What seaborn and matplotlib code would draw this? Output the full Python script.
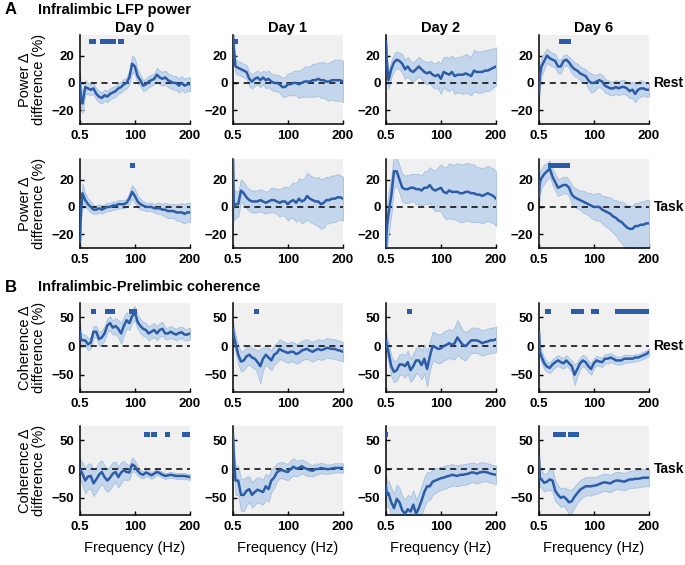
import numpy as np
import matplotlib.pyplot as plt
import matplotlib.transforms as mtransforms
import seaborn as sns

sns.set_style("ticks")
plt.rcParams['font.family'] = ['Liberation Sans', 'DejaVu Sans']
plt.rcParams['font.size'] = 10
plt.rcParams['axes.linewidth'] = 1.1
for key in ['text.color', 'axes.labelcolor', 'xtick.color', 'ytick.color', 'axes.edgecolor']:
    plt.rcParams[key] = 'black'

# frequency grid (Hz)
freq = [0.5, 2, 5, 10, 15, 20, 25, 30, 35, 40, 45, 50, 55, 60, 65, 70, 75, 80, 85, 90, 95,
        100, 105, 110, 115, 120, 125, 130, 135, 140, 145, 150, 155, 160, 165, 170, 175, 180,
        185, 190, 195, 200]

days = ['Day 0', 'Day 1', 'Day 2', 'Day 6']
conditions = ['Rest', 'Task']

# --- A: infralimbic LFP power difference (%) : mean and CI half width ---
pow_rest_d0 = [0, -10, -15, -3, -4, -5, -4, -8, -10, -11, -9, -10, -8, -7, -6, -4, -3, -1, 0, 4, 14,
               12, 5, 2, -2, -1, 1, 2, 3, 6, 4, 3, 4, 2, 1, 0, 0, -2, 0, -2, -1, -1]
pow_rest_d0_ci = [8, 8, 7, 5, 4, 4, 4, 4, 4, 4, 4, 4, 4, 4, 4, 4, 4, 4, 4, 5, 6,
                  6, 5, 4, 4, 4, 4, 4, 4, 5, 5, 5, 5, 5, 5, 5, 5, 5, 5, 5, 5, 5]
pow_rest_d1 = [35, 25, 12, 11, 10, 9, 8, 3, 1, 3, 4, 2, 4, 2, 3, 1, 0, 0, -1, -3, -3,
               -1, -1, 0, 0, -1, 0, 1, 1, 1, 2, 2, 3, 2, 2, 1, 1, 2, 2, 2, 2, 1]
pow_rest_d1_ci = [5, 5, 5, 5, 5, 5, 5, 5, 5, 5, 5, 5, 5, 6, 6, 6, 6, 6, 6, 7, 7,
                  8, 8, 9, 9, 10, 10, 11, 11, 11, 12, 12, 12, 13, 13, 13, 14, 14, 15, 15, 15, 15]
pow_rest_d2 = [30, 15, 2, 10, 15, 17, 16, 14, 10, 12, 9, 8, 10, 12, 10, 8, 7, 8, 6, 5, 6,
               3, 8, 7, 6, 8, 5, 6, 6, 6, 7, 6, 5, 9, 8, 8, 8, 9, 9, 10, 11, 12]
pow_rest_d2_ci = [6, 6, 6, 6, 6, 6, 6, 7, 7, 7, 7, 7, 7, 7, 7, 8, 8, 8, 9, 9, 10,
                  11, 11, 12, 12, 12, 13, 13, 13, 14, 14, 14, 14, 15, 15, 15, 15, 15, 15, 15, 14, 14]
pow_rest_d6 = [-8, 5, 12, 16, 20, 18, 17, 16, 12, 12, 16, 17, 15, 12, 10, 9, 7, 6, 5, 2, 0,
               0, 1, 2, 1, -2, -3, -4, -4, -3, -4, -3, -3, -4, -6, -5, -8, -5, -4, -4, -5, -5]
pow_rest_d6_ci = [8, 8, 7, 6, 5, 5, 5, 5, 5, 5, 4, 4, 4, 5, 5, 5, 5, 5, 5, 6, 7,
                  6, 5, 5, 5, 5, 5, 5, 5, 5, 5, 5, 5, 5, 5, 6, 6, 6, 6, 5, 5, 5]

pow_task_d0 = [-25, -5, 10, 5, 2, 0, -2, -2, -1, -2, -1, 0, 0, 1, 1, 2, 2, 2, 3, 6, 11,
               8, 4, 2, 1, 0, 0, 0, -1, -1, -1, -2, -2, -3, -3, -3, -4, -4, -4, -5, -4, -4]
pow_task_d0_ci = [8, 8, 7, 5, 4, 4, 3, 3, 3, 3, 3, 3, 3, 3, 3, 3, 3, 3, 3, 4, 5,
                  5, 4, 4, 3, 3, 3, 3, 3, 4, 4, 4, 5, 5, 5, 5, 6, 6, 7, 7, 7, 7]
pow_task_d1 = [35, 0, 2, 2, 12, 10, 7, 5, 4, 4, 4, 5, 4, 3, 4, 5, 5, 4, 3, 4, 4,
               2, 4, 5, 3, 6, 4, 5, 8, 6, 5, 4, 4, 2, 3, 5, 5, 6, 6, 7, 7, 6]
pow_task_d1_ci = [10, 10, 10, 9, 8, 8, 8, 8, 8, 8, 8, 8, 8, 8, 8, 9, 9, 9, 10, 10, 11,
                  12, 12, 13, 14, 15, 16, 16, 17, 17, 17, 17, 18, 18, 18, 17, 17, 17, 17, 17, 16, 16]
pow_task_d2 = [-30, -15, -5, 8, 26, 26, 20, 14, 13, 13, 14, 14, 13, 13, 12, 14, 14, 16, 13, 12, 13,
               14, 11, 10, 12, 11, 11, 11, 10, 10, 11, 11, 10, 10, 9, 9, 8, 9, 10, 9, 8, 6]
pow_task_d2_ci = [15, 15, 15, 14, 12, 10, 10, 10, 10, 10, 10, 10, 11, 11, 11, 12, 12, 13, 14, 15, 16,
                  17, 18, 19, 20, 20, 20, 21, 21, 21, 21, 21, 21, 21, 20, 20, 20, 20, 20, 20, 20, 20]
pow_task_d6 = [8, 18, 21, 24, 26, 28, 22, 18, 14, 15, 16, 16, 14, 9, 7, 6, 5, 4, 3, 2, 1,
               0, 0, 0, -2, -3, -4, -5, -7, -8, -10, -11, -13, -15, -16, -16, -14, -14, -13, -13, -12, -12]
pow_task_d6_ci = [10, 8, 7, 7, 6, 6, 6, 6, 6, 6, 6, 6, 6, 7, 7, 7, 7, 8, 8, 8, 9,
                  9, 10, 10, 10, 11, 11, 12, 12, 13, 14, 15, 16, 16, 17, 17, 17, 17, 17, 17, 17, 17]

# --- B: infralimbic-prelimbic coherence difference (%) ---
coh_rest_d0 = [25, 12, 10, 10, 3, 6, 25, 25, 12, 15, 22, 36, 40, 32, 35, 30, 22, 35, 45, 40, 52,
               58, 42, 35, 30, 28, 22, 25, 28, 22, 28, 30, 22, 22, 25, 22, 20, 23, 24, 20, 20, 22]
coh_rest_d0_ci = [15, 12, 10, 10, 10, 10, 10, 10, 12, 12, 12, 12, 12, 12, 14, 15, 18, 16, 14, 12, 12,
                  12, 12, 12, 12, 12, 12, 12, 12, 12, 12, 12, 10, 10, 10, 10, 10, 10, 10, 10, 10, 10]
coh_rest_d1 = [30, 18, 5, -15, -27, -25, -18, -15, -20, -22, -28, -35, -22, -15, -20, -25, -15, -12, -5, -8, -10,
               -12, -10, -10, -14, -12, -8, -6, -5, -8, -10, -7, -5, -7, -6, -3, -4, -5, -5, -7, -8, -10]
coh_rest_d1_ci = [15, 15, 15, 16, 17, 17, 17, 17, 17, 17, 20, 30, 20, 17, 17, 17, 17, 17, 17, 17, 17,
                  17, 17, 17, 17, 17, 17, 17, 17, 17, 17, 17, 17, 17, 17, 17, 17, 17, 17, 17, 17, 17]
coh_rest_d2 = [10, 0, -10, -35, -45, -42, -32, -32, -35, -28, -42, -35, -25, -25, -33, -22, -40, -18, 0, -2, -5,
               -4, 0, 2, 5, 2, 5, 15, 8, 2, 0, 5, 10, 10, 10, 8, 5, 7, 8, 10, 10, 12]
coh_rest_d2_ci = [15, 15, 17, 18, 18, 18, 18, 18, 20, 20, 20, 22, 22, 25, 25, 25, 30, 25, 25, 25, 25,
                  25, 25, 25, 25, 25, 28, 30, 28, 25, 25, 22, 22, 22, 22, 22, 22, 22, 22, 22, 22, 22]
coh_rest_d6 = [25, -10, -18, -30, -36, -38, -32, -28, -25, -28, -30, -25, -30, -35, -50, -40, -30, -25, -28, -35, -40,
               -30, -25, -27, -28, -22, -22, -20, -22, -25, -25, -25, -22, -22, -22, -22, -20, -20, -18, -16, -14, -10]
coh_rest_d6_ci = [10, 10, 10, 10, 9, 9, 9, 9, 9, 9, 9, 9, 9, 10, 18, 12, 10, 10, 10, 10, 10,
                  9, 8, 8, 8, 8, 8, 8, 7, 7, 7, 7, 7, 7, 6, 6, 6, 6, 6, 6, 6, 6]

coh_task_d0 = [0, -3, -8, -20, -13, -12, -25, -18, -10, -5, -14, -20, -15, -8, -5, -14, -6, -2, -5, -6, 8,
               5, -3, -8, -10, -6, -8, -11, -8, -5, -7, -10, -12, -11, -10, -11, -12, -12, -12, -12, -13, -14]
coh_task_d0_ci = [18, 18, 20, 22, 22, 22, 22, 22, 22, 20, 20, 20, 20, 20, 18, 18, 18, 16, 14, 12, 12,
                  10, 8, 7, 6, 6, 6, 6, 6, 5, 5, 5, 5, 5, 5, 5, 5, 5, 5, 5, 5, 5]
coh_task_d1 = [60, 20, -20, -20, -45, -45, -38, -35, -45, -40, -36, -38, -40, -30, -35, -20, -15, -6, -2, -2, -4,
               -5, 0, 4, 1, 2, 5, 2, 0, -2, -3, 0, 0, 2, 1, 0, 0, 1, 2, 2, 2, 2]
coh_task_d1_ci = [10, 20, 25, 25, 28, 28, 25, 22, 22, 22, 22, 22, 22, 22, 22, 20, 18, 16, 14, 14, 14,
                  14, 15, 15, 14, 13, 12, 12, 12, 10, 10, 10, 9, 9, 9, 8, 8, 8, 8, 8, 8, 8]
coh_task_d2 = [-30, -45, -42, -58, -68, -52, -58, -72, -78, -70, -74, -62, -78, -68, -55, -40, -30, -30, -22, -20, -18,
               -16, -15, -13, -12, -10, -11, -12, -10, -10, -9, -8, -6, -6, -8, -6, -5, -5, -6, -8, -9, -10]
coh_task_d2_ci = [20, 22, 22, 25, 25, 25, 25, 25, 25, 25, 25, 25, 25, 25, 25, 25, 25, 24, 22, 22, 20,
                  20, 20, 20, 19, 19, 18, 18, 18, 18, 18, 18, 17, 17, 17, 17, 17, 16, 16, 16, 16, 16]
coh_task_d6 = [20, -15, -18, -24, -22, -18, -20, -38, -45, -50, -48, -52, -58, -56, -48, -42, -36, -33, -30, -30, -30,
               -29, -28, -26, -24, -23, -24, -25, -22, -20, -20, -21, -22, -20, -18, -18, -17, -17, -16, -15, -15, -15]
coh_task_d6_ci = [15, 15, 15, 15, 15, 18, 20, 18, 16, 16, 16, 18, 22, 20, 18, 17, 17, 16, 16, 16, 16,
                  15, 15, 15, 15, 15, 15, 15, 15, 15, 15, 15, 15, 15, 15, 15, 15, 15, 15, 15, 15, 15]

# significant frequency ranges (Hz)
pow_rest_sig = [[(17, 30), (37, 65), (69, 80)], [(1, 9)], [], [(36, 59)]]
pow_task_sig = [[(92, 101)], [], [], [(17, 56)]]
coh_rest_sig = [[(20, 30), (46, 64), (89, 103)], [(38, 48)], [(39, 48)],
                [(12, 22), (59, 82), (94, 109), (139, 200)]]
coh_task_sig = [[(116, 127), (129, 140), (155, 163), (185, 200)], [], [(0.5, 5)], [(26, 49), (54, 73)]]

rows = [
    ([pow_rest_d0, pow_rest_d1, pow_rest_d2, pow_rest_d6],
     [pow_rest_d0_ci, pow_rest_d1_ci, pow_rest_d2_ci, pow_rest_d6_ci], pow_rest_sig, 'pow'),
    ([pow_task_d0, pow_task_d1, pow_task_d2, pow_task_d6],
     [pow_task_d0_ci, pow_task_d1_ci, pow_task_d2_ci, pow_task_d6_ci], pow_task_sig, 'pow'),
    ([coh_rest_d0, coh_rest_d1, coh_rest_d2, coh_rest_d6],
     [coh_rest_d0_ci, coh_rest_d1_ci, coh_rest_d2_ci, coh_rest_d6_ci], coh_rest_sig, 'coh'),
    ([coh_task_d0, coh_task_d1, coh_task_d2, coh_task_d6],
     [coh_task_d0_ci, coh_task_d1_ci, coh_task_d2_ci, coh_task_d6_ci], coh_task_sig, 'coh'),
]

line_col = '#2c5ca8'
band_col = '#c4d6ec'
band_edge = '#a3bfe0'

settings = {
    'pow': dict(ylim=(-30, 35), yticks=[-20, 0, 20], sig_y=30, sig_h=3.6,
                ylabel='Power Δ\ndifference (%)'),
    'coh': dict(ylim=(-80, 75), yticks=[-50, 0, 50], sig_y=60, sig_h=8.5,
                ylabel='Coherence Δ\ndifference (%)'),
}

W, H = 685, 565
fig = plt.figure(figsize=(W / 100, H / 100), dpi=100)

col_left = [80, 233, 386, 539]
row_top = [35, 159, 303, 426]
ax_w, ax_h = 110, 89

for r, (means, cis, sigs, kind) in enumerate(rows):
    st = settings[kind]
    for c in range(4):
        ax = fig.add_axes([col_left[c] / W, 1 - (row_top[r] + ax_h) / H, ax_w / W, ax_h / H])
        ax.set_facecolor('#f0f0f0')
        m = np.array(means[c], dtype=float)
        ci = np.array(cis[c], dtype=float)
        ax.fill_between(freq, m - ci, m + ci, facecolor=band_col, edgecolor=band_edge,
                        lw=0.6, zorder=1)
        ax.axhline(0, color='black', ls=(0, (4, 3)), lw=1.1, zorder=2)
        sns.lineplot(x=freq, y=m, ax=ax, color=line_col, lw=1.8, zorder=3)
        if sigs[c]:
            ax.broken_barh([(a, b - a) for a, b in sigs[c]],
                           (st['sig_y'] - st['sig_h'] / 2, st['sig_h']),
                           facecolor=line_col, edgecolor='none', zorder=4)
        ax.set_xlim(0.5, 200)
        ax.set_ylim(*st['ylim'])
        ax.set_xticks([0.5, 100, 200])
        ax.set_xticklabels(['0.5', '100', '200'])
        ax.set_yticks(st['yticks'])
        ax.tick_params(direction='in', length=3, width=1, labelsize=9.5, pad=4)
        for lab in ax.get_xticklabels() + ax.get_yticklabels():
            lab.set_fontweight('bold')
        for s in ['top', 'right']:
            ax.spines[s].set_visible(False)
        ax.set_xlabel('')
        ax.set_ylabel('')
        if c == 0:
            ax.set_ylabel(st['ylabel'], fontsize=10.5, linespacing=1.0)
            ax.yaxis.set_label_coords(-0.31, 0.5)
        if r == 3:
            ax.set_xlabel('Frequency (Hz)', fontsize=10.5, labelpad=6)
        if r == 0:
            ax.set_title(days[c], fontweight='bold', fontsize=10.5, pad=2)
        if c == 3:
            trans = mtransforms.blended_transform_factory(ax.transAxes, ax.transData)
            ax.text(1.04, 0, conditions[r % 2], transform=trans, fontweight='bold',
                    fontsize=10, va='center', ha='left')

fig.text(5 / W, 1 - 10 / H, 'A', fontweight='bold', fontsize=12, va='center')
fig.text(38 / W, 1 - 10 / H, 'Infralimbic LFP power', fontweight='bold', fontsize=10.5, va='center')
fig.text(5 / W, 1 - 287 / H, 'B', fontweight='bold', fontsize=12, va='center')
fig.text(38 / W, 1 - 287 / H, 'Infralimbic-Prelimbic coherence', fontweight='bold',
         fontsize=10.5, va='center')

fig.savefig('out.png', dpi=100)
